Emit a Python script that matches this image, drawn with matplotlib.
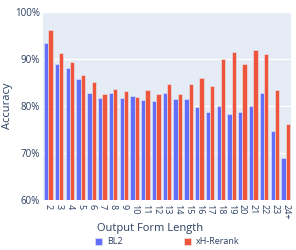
import matplotlib
matplotlib.use("Agg")
import matplotlib.pyplot as plt
import numpy as np

categories = ["2", "3", "4", "5", "6", "7", "8", "9", "10", "11", "12", "13",
              "14", "15", "16", "17", "18", "19", "20", "21", "22", "23", "24+"]
bl2 = [93.4, 88.9, 88.1, 85.7, 82.8, 81.7, 82.8, 81.7, 82.1, 81.3, 81.1, 82.8,
       81.4, 81.5, 79.8, 78.7, 80.0, 78.3, 78.7, 79.9, 82.8, 74.7, 68.9]
xh_rerank = [96.2, 91.3, 89.4, 86.6, 85.1, 82.6, 83.6, 83.2, 81.9, 83.4, 82.5, 84.7,
             82.6, 84.6, 86.0, 84.3, 89.9, 91.4, 88.9, 91.9, 91.1, 83.5, 76.1]

plt.rcParams["font.family"] = ["Open Sans", "DejaVu Sans"]
TXT = "#2a3f5f"

fig = plt.figure(figsize=(2.96, 2.5), dpi=100)
ax = fig.add_axes([43 / 296, 1 - 200 / 250, 248 / 296, 188 / 250])
ax.set_facecolor("#E5ECF6")

x = np.arange(len(categories))
w = 0.4
ax.bar(x - w / 2, np.array(bl2) - 60, w, bottom=60, color="#636efa",
       edgecolor="#E5ECF6", linewidth=0.4, label="BL2", zorder=3)
ax.bar(x + w / 2, np.array(xh_rerank) - 60, w, bottom=60, color="#EF553B",
       edgecolor="#E5ECF6", linewidth=0.4, label="xH-Rerank", zorder=3)

ax.set_xlim(-0.5, len(categories) - 0.5)
ax.set_ylim(60, 100)
ax.set_yticks([60, 70, 80, 90, 100])
ax.set_yticklabels([f"{v}%" for v in [60, 70, 80, 90, 100]])
ax.set_xticks(x)
ax.set_xticklabels(categories, rotation=-90)
ax.yaxis.grid(True, color="white", linewidth=1, zorder=0)
ax.tick_params(axis="y", length=0, labelsize=7, labelcolor=TXT, pad=2)
ax.tick_params(axis="x", length=0, labelsize=6.5, labelcolor=TXT, pad=3)
for s in ax.spines.values():
    s.set_visible(False)

fig.text(150 / 296, 1 - 228 / 250, "Output Form Length", fontsize=8, color=TXT,
         ha="center", va="center")
fig.text(8 / 296, 1 - 106 / 250, "Accuracy", fontsize=8, color=TXT,
         ha="center", va="center", rotation=90)

fig.legend(loc="center left", bbox_to_anchor=(95 / 296, 1 - 242 / 250), ncol=2,
           frameon=False, fontsize=6.5, labelcolor=TXT, handlelength=0.8,
           handleheight=0.8, columnspacing=6.8, handletextpad=0.5,
           borderpad=0, borderaxespad=0)

fig.savefig("out.png", dpi=100)
